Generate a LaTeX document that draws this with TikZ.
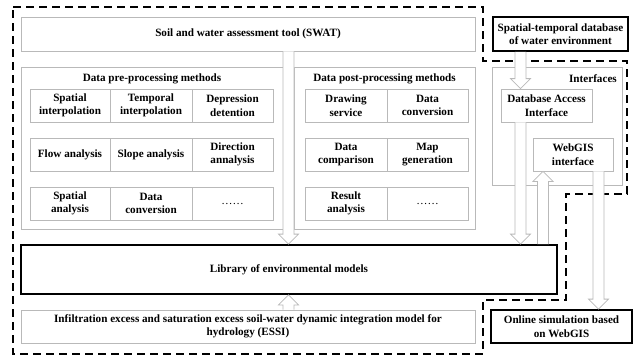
\documentclass[tikz,border=0pt]{standalone}
\usepackage{fontspec}
\setmainfont{Liberation Serif}
\usetikzlibrary{calc}
\definecolor{boxgray}{RGB}{185,185,185}
\tikzset{
  thinbox/.style={draw=boxgray, line width=0.8bp, inner sep=0pt, align=center},
  thickbox/.style={draw=black, line width=1.8bp, inner sep=0pt, align=center},
  harr/.style={draw=boxgray, line width=0.8bp, fill=white, line join=miter},
  outline/.style={draw=black, line width=2.2bp, dash pattern=on 8bp off 5bp},
  lbl/.style={inner sep=0pt, align=center}
}
\newcommand\boxat[7]{\node[#6, minimum width={(#4-#2)*1bp}, minimum height={(#5-#3)*1bp}] (#1) at ({(#2+#4)/2},{(#3+#5)/2}) {#7};}
\newcommand\hollowarr[2]{\draw[harr] let \p1=(#1), \p2=(#2), \p3=($(#2)!10bp!(#1)$) in (\x1-5.5bp,\y1) -- (\x1-5.5bp,\y3) -- (\x1-10bp,\y3) -- (\x1,\y2) -- (\x1+10bp,\y3) -- (\x1+5.5bp,\y3) -- (\x1+5.5bp,\y1);}
\begin{document}
\begin{tikzpicture}[x=1bp,y=-1bp, font=\fontsize{11.2}{13.5}\selectfont\bfseries]
\useasboundingbox (0,0) rectangle (634,356);
% outer dashed region
\draw[outline] (13,7) -- (483,7) -- (483,61) -- (627,61) -- (627,194) -- (566,194) -- (566,300) -- (483,300) -- (483,354) -- (13,354) -- cycle;
% top-level boxes
\boxat{swat}{21}{17}{475}{51}{thinbox}{Soil and water assessment tool (SWAT)}
\boxat{pre}{21}{67}{283}{229}{thinbox}{}
\boxat{post}{294}{67}{475}{229}{thinbox}{}
\boxat{intf}{492}{67}{622}{185}{thinbox}{}
\boxat{st}{493}{17}{628}{51}{thickbox}{Spatial-temporal database\\of water environment}
\boxat{lib}{21}{245}{557}{294}{thickbox}{Library of environmental models}
\boxat{essi}{21}{310}{475}{343}{thinbox}{Infiltration excess and saturation excess soil-water dynamic integration model for\\hydrology (ESSI)}
\boxat{online}{491}{310}{632}{343}{thickbox}{Online simulation based\\on WebGIS}
% headers
\node[lbl] (preh) at (152,79) {Data pre-processing methods};
\node[lbl] (posth) at (384.5,79) {Data post-processing methods};
\node[lbl, anchor=east] (intfh) at (617,79) {Interfaces};
% pre-processing cells
\boxat{p11}{30}{89}{110}{122}{thinbox}{Spatial\\interpolation}
\boxat{p12}{110}{89}{192}{122}{thinbox}{Temporal\\interpolation}
\boxat{p13}{192}{89}{273}{122}{thinbox}{Depression\\detention}
\boxat{p21}{30}{138}{110}{171}{thinbox}{Flow analysis}
\boxat{p22}{110}{138}{192}{171}{thinbox}{Slope analysis}
\boxat{p23}{192}{138}{273}{171}{thinbox}{Direction\\annalysis}
\boxat{p31}{30}{187}{110}{220}{thinbox}{Spatial\\analysis}
\boxat{p32}{110}{187}{192}{220}{thinbox}{Data\\conversion}
\boxat{p33}{192}{187}{273}{220}{thinbox}{\textmd{\dots\dots}}
% post-processing cells
\boxat{q11}{305}{89}{387}{122}{thinbox}{Drawing\\service}
\boxat{q12}{387}{89}{468}{122}{thinbox}{Data\\conversion}
\boxat{q21}{305}{138}{387}{171}{thinbox}{Data\\comparison}
\boxat{q22}{387}{138}{468}{171}{thinbox}{Map\\generation}
\boxat{q31}{305}{187}{387}{220}{thinbox}{Result\\analysis}
\boxat{q32}{387}{187}{468}{220}{thinbox}{\textmd{\dots\dots}}
% interfaces
\boxat{db}{501}{89}{592}{122}{thinbox}{Database Access\\Interface}
\boxat{web}{533}{138}{613}{171}{thinbox}{WebGIS\\interface}
% hollow arrows
\hollowarr{288.5,0 |- swat.south}{288.5,0 |- lib.north}
\hollowarr{288.5,0 |- essi.north}{288.5,0 |- lib.south}
\hollowarr{520.5,0 |- st.south}{520.5,0 |- db.north}
\hollowarr{520.5,0 |- db.south}{520.5,0 |- lib.north}
\hollowarr{543,0 |- lib.north}{543,0 |- web.south}
\hollowarr{598.5,0 |- web.south}{598.5,0 |- online.north}
\end{tikzpicture}
\end{document}
